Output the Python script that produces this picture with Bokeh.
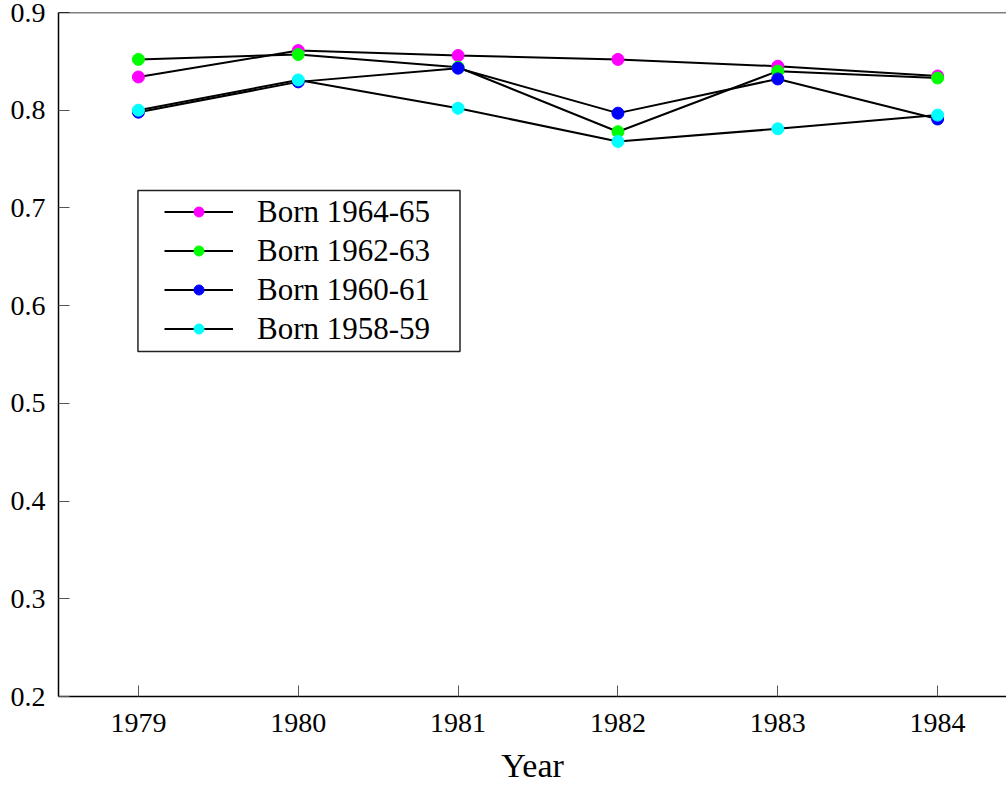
from bokeh.plotting import figure
from bokeh.models import Range1d, Span, BoxAnnotation, Legend, LegendItem, FixedTicker
from bokeh.embed import file_html
from bokeh.resources import INLINE

years = [1979, 1980, 1981, 1982, 1983, 1984]
labels = ["Born 1964-65", "Born 1962-63", "Born 1960-61", "Born 1958-59"]
born_1964_65 = [0.834, 0.861, 0.856, 0.852, 0.845, 0.835]
born_1962_63 = [0.852, 0.857, 0.844, 0.778, 0.840, 0.833]
born_1960_61 = [0.798, 0.829, 0.843, 0.797, 0.832, 0.791]
born_1958_59 = [0.800, 0.831, 0.802, 0.768, 0.781, 0.795]
series = [born_1964_65, born_1962_63, born_1960_61, born_1958_59]
colors = ["#FF00FF", "#00FF00", "#0000FF", "#00FFFF"]
y_ticks = [0.2, 0.3, 0.4, 0.5, 0.6, 0.7, 0.8, 0.9]

FONT = "Liberation Serif"

p = figure(width=1006, height=786, x_range=Range1d(1978.5, 1984.431),
           y_range=Range1d(0.2, 0.9), output_backend="svg", toolbar_location=None,
           min_border_left=58, min_border_right=0, min_border_top=12, min_border_bottom=90)
p.outline_line_color = None
p.xgrid.grid_line_color = None
p.ygrid.grid_line_color = None

for ax in (p.xaxis[0], p.yaxis[0]):
    ax.axis_line_color = "black"
    ax.axis_line_width = 1.5
    ax.major_tick_in = 11
    ax.major_tick_out = 0
    ax.minor_tick_in = 0
    ax.minor_tick_out = 0
    ax.major_tick_line_color = "#555555"
    ax.major_tick_line_width = 1
    ax.major_label_text_font = FONT
    ax.major_label_text_font_size = "28px"
    ax.major_label_text_color = "black"

p.xaxis.ticker = FixedTicker(ticks=years)
p.yaxis.ticker = FixedTicker(ticks=y_ticks)
p.xaxis.major_label_standoff = 17
p.yaxis.major_label_standoff = 13

p.xaxis.axis_label = "Year"
p.xaxis.axis_label_text_font = FONT
p.xaxis.axis_label_text_font_size = "34px"
p.xaxis.axis_label_text_font_style = "normal"
p.xaxis.axis_label_text_color = "black"
p.xaxis.axis_label_standoff = 12

p.add_layout(Span(location=0.9, dimension="width", line_color="black", line_width=1.5))

line_rs = []
for vals in series:
    line_rs.append(p.line(years, vals, line_color="black", line_width=2))
dot_rs = []
for vals, c in zip(series, colors):
    dot_rs.append(p.scatter(years, vals, size=12, fill_color=c, line_color=c))

box = BoxAnnotation(left=1978.997, right=1981.012, top=0.7178, bottom=0.5531,
                    fill_color=None, fill_alpha=0, line_color="#222222", line_alpha=1.0,
                    line_width=1.5)
p.add_layout(box)

legend = Legend(items=[LegendItem(label=l, renderers=[lr, dr]) for l, lr, dr in zip(labels, line_rs, dot_rs)],
                location=(106, 348), padding=0, margin=0, spacing=0,
                glyph_width=69, glyph_height=25, label_height=39, label_standoff=24,
                label_text_font=FONT, label_text_font_size="31px", label_text_color="black",
                border_line_color=None, background_fill_alpha=0)
p.add_layout(legend, "center")

open("out.html", "w").write(file_html(p, INLINE))
